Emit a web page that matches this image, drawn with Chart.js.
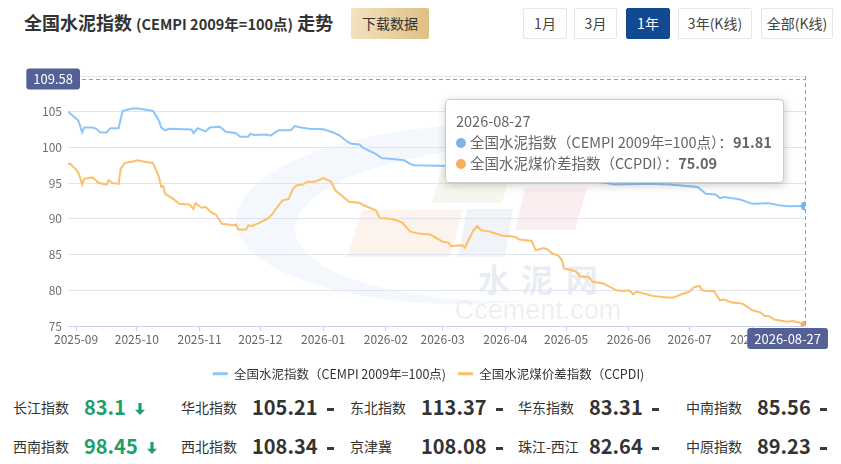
<!DOCTYPE html>
<html lang="zh-CN">
<head>
<meta charset="utf-8">
<title>全国水泥指数走势</title>
<script src="https://cdn.jsdelivr.net/npm/chart.js@4.4.1/dist/chart.umd.min.js"></script>
<style>
  html, body { margin: 0; padding: 0; background: #fff; }
  body { width: 841px; height: 464px; position: relative; overflow: hidden;
         font-family: "Noto Sans CJK SC", "Noto Sans", sans-serif; color: #333; }
  .title { position: absolute; left: 24px; top: 9px; font-size: 18px; font-weight: bold; line-height: 26px; white-space: nowrap; }
  .title small { font-size: 14.5px; }
  .download { position: absolute; left: 351px; top: 8px; width: 78px; height: 31px; line-height: 31px; text-align: center;
              font-size: 14px; background: linear-gradient(to right, #f3e2c0, #dfc084); border-radius: 2px; }
  .range { position: absolute; top: 8px; height: 31px; line-height: 29px; text-align: center; font-size: 14px;
           border: 1px solid #e6e6e6; box-sizing: border-box; border-radius: 2px; color: #444; background: #fff; }
  .range.on { background: #114a92; border-color: #114a92; color: #fff; }
  #wrap { position: absolute; left: 0; top: 0; width: 841px; height: 390px; }
  #tip { position: absolute; display: none; background: #fff; border: 1px solid #ccc; border-radius: 4px;
         box-shadow: 1px 2px 10px rgba(0,0,0,0.2); padding: 10px 11px 9px 10px; font-size: 14.5px; color: #666;
         line-height: 21px; white-space: nowrap; pointer-events: none; }
  #tip i { display: inline-block; width: 10px; height: 10px; border-radius: 5px; margin-right: 4px; vertical-align: 0; }
  #tip b { color: #666; }
  .row { position: absolute; left: 13px; height: 30px; line-height: 30px; white-space: nowrap; }
  .cell { position: absolute; top: 0; }
  .cell .name { position: absolute; left: 0; font-size: 14px; color: #333; }
  .cell .val { position: absolute; left: 71px; font-size: 20px; font-weight: bold; color: #333; }
  .cell .val.down { color: #1f9e6b; }
  .cell .dash { display: inline-block; width: 7px; height: 3px; background: #3a3a3a; margin-left: 9px; vertical-align: middle; }
  .cell svg { margin-left: 9px; vertical-align: middle; position: relative; top: -1px; }
</style>
</head>
<body>

<div class="title">全国水泥指数 <small>(CEMPI 2009年=100点)</small> 走势</div>
<div class="download">下载数据</div>
<div class="range" style="left:523px;width:44px">1月</div>
<div class="range" style="left:574px;width:43px">3月</div>
<div class="range on" style="left:626px;width:44px">1年</div>
<div class="range" style="left:678px;width:74px">3年(K线)</div>
<div class="range" style="left:761px;width:72px">全部(K线)</div>

<div id="wrap"><canvas id="chart"></canvas></div>
<div id="tip"></div>
<div id="stats"></div>

<script>
'use strict'

//系列名称
const seriesNames = ['全国水泥指数（CEMPI 2009年=100点）', '全国水泥煤价差指数（CCPDI）'];
const legendNames = ['全国水泥指数（CEMPI 2009年=100点)', '全国水泥煤价差指数（CCPDI)'];

//全国水泥指数 CEMPI
const cempiDates = ['2025-08-28','2025-08-31','2025-09-02','2025-09-03','2025-09-04','2025-09-05','2025-09-09','2025-09-11',
  '2025-09-13','2025-09-16','2025-09-18','2025-09-22','2025-09-23','2025-09-24','2025-09-28','2025-10-01','2025-10-09',
  '2025-10-12','2025-10-13','2025-10-15','2025-10-17','2025-10-28','2025-10-29','2025-10-31','2025-11-04','2025-11-06',
  '2025-11-11','2025-11-14','2025-11-19','2025-11-21','2025-11-25','2025-11-26','2025-11-28','2025-12-04','2025-12-06',
  '2025-12-10','2025-12-16','2025-12-18','2025-12-21','2025-12-25','2026-01-01','2026-01-06','2026-01-09','2026-01-13',
  '2026-01-15','2026-01-19','2026-01-21','2026-01-27','2026-01-30','2026-02-03','2026-02-10','2026-02-13','2026-02-15',
  '2026-03-04','2026-03-15','2026-04-01','2026-04-15','2026-05-01','2026-05-15','2026-05-25','2026-06-11','2026-06-21',
  '2026-07-05','2026-07-09','2026-07-14','2026-07-16','2026-07-18','2026-07-26','2026-08-01','2026-08-09','2026-08-14',
  '2026-08-19','2026-08-27'];
const cempiValues = [105.0,104.3,103.8,103.0,102.1,102.8,102.8,102.6,
  102.1,102.1,102.7,102.7,104.0,105.1,105.4,105.5,105.1,
  103.7,102.8,102.4,102.6,102.5,102.0,102.7,102.25,102.8,
  102.9,102.2,102.0,101.5,101.5,101.9,101.75,101.8,101.65,
  102.4,102.4,103.0,102.8,102.6,102.55,102.1,101.7,100.8,
  100.5,100.4,99.9,99.1,98.5,98.4,98.2,97.7,97.5,
  97.4,97.2,96.8,96.3,95.8,95.3,94.8,94.9,94.8,
  94.45,93.5,93.4,92.9,93.05,92.7,92.1,92.2,91.9,
  91.75,91.81];

//全国水泥煤价差指数 CCPDI
const ccpdiDates = ['2025-08-28','2025-08-29','2025-09-01','2025-09-02','2025-09-03','2025-09-04','2025-09-05','2025-09-09',
  '2025-09-10','2025-09-12','2025-09-16','2025-09-17','2025-09-19','2025-09-22','2025-09-23','2025-09-25','2025-09-28',
  '2025-09-29','2025-10-01','2025-10-09','2025-10-12','2025-10-13','2025-10-14','2025-10-15','2025-10-19','2025-10-22',
  '2025-10-27','2025-10-29','2025-10-30','2025-11-02','2025-11-04','2025-11-07','2025-11-09','2025-11-12','2025-11-18',
  '2025-11-19','2025-11-20','2025-11-24','2025-11-25','2025-11-27','2025-12-01','2025-12-05','2025-12-07','2025-12-10',
  '2025-12-12','2025-12-15','2025-12-17','2025-12-19','2025-12-22','2025-12-24','2025-12-28','2026-01-01','2026-01-05',
  '2026-01-07','2026-01-14','2026-01-19','2026-01-21','2026-01-27','2026-01-29','2026-02-03','2026-02-06','2026-02-09',
  '2026-02-13','2026-02-18','2026-02-23','2026-03-01','2026-03-04','2026-03-05','2026-03-11','2026-03-12','2026-03-16',
  '2026-03-18','2026-03-20','2026-03-24','2026-03-31','2026-04-02','2026-04-06','2026-04-08','2026-04-14','2026-04-16',
  '2026-04-20','2026-04-22','2026-04-24','2026-04-27','2026-04-29','2026-04-30','2026-05-04','2026-05-06','2026-05-08',
  '2026-05-12','2026-05-14','2026-05-19','2026-05-26','2026-05-29','2026-06-01','2026-06-03','2026-06-05','2026-06-13',
  '2026-06-20','2026-06-23','2026-06-28','2026-07-01','2026-07-03','2026-07-06','2026-07-07','2026-07-09','2026-07-13',
  '2026-07-16','2026-07-18','2026-07-22','2026-07-27','2026-08-01','2026-08-05','2026-08-07','2026-08-09','2026-08-12',
  '2026-08-18','2026-08-21','2026-08-24','2026-08-27'];
const ccpdiValues = [97.7,97.7,96.9,96.5,95.8,94.8,95.6,95.8,
  95.6,95.05,94.8,95.4,95.0,94.9,97.0,97.8,98.0,
  98.0,98.2,97.8,95.8,94.5,94.6,93.5,92.8,92.1,
  92.0,91.4,92.2,91.55,91.65,90.85,90.6,89.3,89.1,
  89.2,88.5,88.5,89.1,89.0,89.5,90.1,90.7,91.9,
  92.6,92.8,94.2,94.7,94.8,95.2,95.2,95.7,95.2,
  94.0,92.35,92.25,91.9,91.2,90.1,90.0,89.8,89.5,
  88.2,87.9,87.8,86.8,86.65,86.2,86.3,85.95,88.3,
  89.0,88.4,88.25,87.6,87.6,87.45,87.1,86.9,85.6,
  85.9,85.7,85.15,84.9,84.2,83.05,82.8,82.6,81.9,
  81.9,81.2,81.0,80.0,79.9,80.0,79.45,79.8,79.2,
  79.0,79.0,79.55,79.8,80.4,80.6,80.1,79.9,79.9,
  78.6,78.7,78.3,78.15,77.2,76.9,76.4,76.4,75.9,
  75.6,75.7,75.5,75.09];

//横轴月份刻度
const monthTicks = ['2025-09','2025-10','2025-11','2025-12','2026-01','2026-02',
  '2026-03','2026-04','2026-05','2026-06','2026-07','2026-08'];
//纵轴刻度
const yMin = 75;
const yMax = 110;
const yStep = 5;
//鼠标所在的纵轴数值
const pointerValue = 109.58;

//线条颜色和圆点颜色
const lineColors = ['#8cc5fa', '#fdc06a'];
const pointColors = ['#7fb3e8', '#f9ae5f'];

//区域指数
const regionNames = ['长江指数','华北指数','东北指数','华东指数','中南指数','西南指数','西北指数','京津冀','珠江-西江','中原指数'];
const regionValues = [83.1, 105.21, 113.37, 83.31, 85.56, 98.45, 108.34, 108.08, 82.64, 89.23];
const regionTrends = ['down','flat','flat','flat','flat','down','flat','flat','flat','flat'];

//==================================================================================================

//日期转成天数
function dayNum(s){
    const p = s.split('-').map(Number);
    return Date.UTC(p[0], p[1] - 1, p[2] || 1) / 86400000;
}

function toPoints(dates, values){
    return dates.map((d, i) => ({ x: dayNum(d), y: values[i], d: d }));
}

//激活点对应的数据
function activeRaw(chart, a){
    return chart.data.datasets[a.datasetIndex].data[a.index];
}

//背景水印
const watermark = {
    id: 'watermark',
    beforeDraw(chart){
        const ctx = chart.ctx;
        ctx.save();
        ctx.beginPath();
        ctx.ellipse(482, 214, 246, 90, -0.03, 0, Math.PI * 2);
        ctx.clip();
        ctx.beginPath();
        ctx.rect(0, 0, chart.width, chart.height);
        ctx.ellipse(527, 223, 232, 78, -0.03, 0, Math.PI * 2);
        ctx.fillStyle = '#f4f8fc';
        ctx.fill('evenodd');
        ctx.restore();

        ctx.save();
        const shapes = [
            ['#f4f7ee', [[442,167],[512,167],[502,203],[432,203]]],
            ['#fdf3ed', [[362,210],[463,210],[450,257],[347,257]]],
            ['#f0f3f8', [[467,209],[513,209],[505,257],[458,257]]],
            ['#fcedef', [[525,188],[587,188],[575,230],[515,230]]]
        ];
        shapes.forEach(([c, pts]) => {
            ctx.beginPath();
            pts.forEach((p, i) => i ? ctx.lineTo(p[0], p[1]) : ctx.moveTo(p[0], p[1]));
            ctx.closePath();
            ctx.fillStyle = c;
            ctx.fill();
        });
        ctx.fillStyle = '#e9edf3';
        ctx.font = 'bold 32px "Noto Sans CJK SC"';
        ctx.textAlign = 'center';
        ctx.textBaseline = 'middle';
        ctx.fillText('水', 494, 280);
        ctx.fillText('泥', 537, 280);
        ctx.fillText('网', 582, 280);
        ctx.fillStyle = '#efefef';
        ctx.font = '27px "Liberation Sans"';
        ctx.fillText('Ccement.com', 538, 312);
        ctx.restore();
    }
};

//图例整体往右挪一点，和原图居中位置一致
const legendShift = {
    id: 'legendShift',
    afterLayout(chart){
        chart.legend.left += 21;
        chart.legend.right += 21;
    }
};

//十字准线和轴标签
const crosshair = {
    id: 'crosshair',
    afterDraw(chart){
        const act = chart.tooltip.getActiveElements();
        if(!act.length) return;
        const ctx = chart.ctx;
        const area = chart.chartArea;
        const raw = activeRaw(chart, act[0]);
        const px = chart.scales.x.getPixelForValue(raw.x);
        const py = chart.scales.y.getPixelForValue(pointerValue);
        ctx.save();
        ctx.strokeStyle = '#9a9a9a';
        ctx.lineWidth = 1;
        ctx.setLineDash([4, 3]);
        ctx.beginPath();
        ctx.moveTo(area.left, Math.round(py) + 0.5);
        ctx.lineTo(area.right, Math.round(py) + 0.5);
        ctx.moveTo(Math.round(px) + 0.5, area.top);
        ctx.lineTo(Math.round(px) + 0.5, area.bottom);
        ctx.stroke();
        ctx.setLineDash([]);

        ctx.font = '13px "Noto Sans CJK SC"';
        ctx.textAlign = 'center';
        ctx.textBaseline = 'middle';
        //纵轴标签
        const yText = pointerValue.toFixed(2);
        let w = ctx.measureText(yText).width + 14;
        const bx = area.left + 12 - w;
        ctx.fillStyle = '#556096';
        ctx.beginPath();
        ctx.roundRect(bx, py - 10.5, w, 21, 3);
        ctx.fill();
        ctx.fillStyle = '#fff';
        ctx.fillText(yText, bx + w / 2, py + 0.5);
        //横轴标签
        const xText = raw.d;
        w = ctx.measureText(xText).width + 14;
        const cx = Math.min(px, chart.width - 13 - w / 2);
        ctx.fillStyle = '#556096';
        ctx.beginPath();
        ctx.roundRect(cx - w / 2, area.bottom + 2, w, 21, 3);
        ctx.fill();
        ctx.fillStyle = '#fff';
        ctx.fillText(xText, cx, area.bottom + 13);
        ctx.restore();
    }
};

//提示框
function externalTip(context){
    const chart = context.chart;
    const tooltip = context.tooltip;
    const tip = document.querySelector('#tip');
    const act = tooltip.getActiveElements();
    if(tooltip.opacity === 0 || !act.length){
        tip.style.display = 'none';
        return;
    }
    let html = '<div>' + activeRaw(chart, act[0]).d + '</div>';
    act.forEach((a) => {
        html += '<div><i style="background:' + pointColors[a.datasetIndex] + '"></i>' +
            seriesNames[a.datasetIndex] + '：<b>' + activeRaw(chart, a).y.toFixed(2) + '</b></div>';
    });
    tip.innerHTML = html;
    tip.style.display = 'block';
    const px = chart.scales.x.getPixelForValue(activeRaw(chart, act[0]).x);
    const py = chart.scales.y.getPixelForValue(pointerValue);
    tip.style.left = (px - 21 - tip.offsetWidth) + 'px';
    tip.style.top = (py + 20) + 'px';
}

Chart.defaults.font.family = '"Noto Sans CJK SC", "Noto Sans", sans-serif';

const chart = new Chart(document.getElementById('chart'), {
    type: 'line',
    data: {
        datasets: [
            {
                label: seriesNames[0],
                data: toPoints(cempiDates, cempiValues),
                borderColor: lineColors[0],
                backgroundColor: pointColors[0],
                borderWidth: 2,
                pointRadius: 0,
                pointHoverRadius: 4,
                pointHoverBorderWidth: 1,
                pointHoverBackgroundColor: pointColors[0],
                pointHoverBorderColor: pointColors[0],
                tension: 0
            },
            {
                label: seriesNames[1],
                data: toPoints(ccpdiDates, ccpdiValues),
                borderColor: lineColors[1],
                backgroundColor: pointColors[1],
                borderWidth: 2,
                pointRadius: 0,
                pointHoverRadius: 4,
                pointHoverBorderWidth: 1,
                pointHoverBackgroundColor: pointColors[1],
                pointHoverBorderColor: pointColors[1],
                tension: 0
            }
        ]
    },
    options: {
        responsive: true,
        maintainAspectRatio: false,
        animation: false,
        events: [],
        layout: { padding: { left: 10, right: 36, top: 76, bottom: 0 } },
        scales: {
            x: {
                type: 'linear',
                min: dayNum(cempiDates[0]),
                max: dayNum(cempiDates[cempiDates.length - 1]),
                afterBuildTicks: (scale) => {
                    scale.ticks = monthTicks.map((m) => ({ value: dayNum(m + '-01') }));
                },
                afterFit: (scale) => { scale.height = 29.5; },
                ticks: {
                    autoSkip: false,
                    maxRotation: 0,
                    padding: 1,
                    color: '#666',
                    font: { size: 12 },
                    callback: (v) => monthTicks.find((m) => dayNum(m + '-01') === v) || ''
                },
                grid: { drawOnChartArea: false, drawTicks: true, tickLength: 5, color: '#c8d1e5' },
                border: { color: '#c8d1e5' }
            },
            y: {
                min: yMin,
                max: yMax,
                afterFit: (scale) => { scale.width = 58; },
                ticks: { stepSize: yStep, padding: 6, color: '#6e7079', font: { size: 12 } },
                grid: { color: '#e0e4ee', drawTicks: false },
                border: { display: false }
            }
        },
        plugins: {
            legend: {
                position: 'bottom',
                labels: {
                    usePointStyle: true,
                    pointStyleWidth: 15,
                    padding: 12,
                    color: '#333',
                    font: { size: 12.5 },
                    generateLabels: (c) => c.data.datasets.map((ds, i) => ({
                        text: legendNames[i],
                        fillStyle: ds.borderColor,
                        strokeStyle: ds.borderColor,
                        lineWidth: 3,
                        pointStyle: 'line',
                        hidden: false,
                        datasetIndex: i,
                        fontColor: '#333'
                    }))
                }
            },
            tooltip: { enabled: false, external: externalTip }
        }
    },
    plugins: [watermark, legendShift, crosshair]
});

//激活最后一天
const lastActive = [
    { datasetIndex: 0, index: cempiValues.length - 1 },
    { datasetIndex: 1, index: ccpdiValues.length - 1 }
];
chart.setActiveElements(lastActive);
chart.tooltip.setActiveElements(lastActive, {
    x: chart.scales.x.getPixelForValue(dayNum(cempiDates[cempiDates.length - 1])),
    y: chart.scales.y.getPixelForValue(pointerValue)
});
chart.update();

//区域指数列表
function drawStats(){
    const stats = document.querySelector('#stats');
    const rowTops = [392, 431];
    const arrow = '<svg width="10" height="12" viewBox="0 0 10 12"><path d="M3.4 0h3.2v6.8H10L5 12L0 6.8h3.4z" fill="#1f9e6b"/></svg>';
    let html = '';
    rowTops.forEach((top, r) => {
        html += '<div class="row" style="top:' + top + 'px">';
        for(let c = 0; c < 5; c++){
            const i = r * 5 + c;
            const down = regionTrends[i] === 'down';
            html += '<div class="cell" style="left:' + Math.round(c * 168.3) + 'px">' +
                '<span class="name">' + regionNames[i] + '</span>' +
                '<span class="val' + (down ? ' down' : '') + '">' + regionValues[i] +
                (down ? arrow : '<span class="dash"></span>') + '</span></div>';
        }
        html += '</div>';
    });
    stats.innerHTML = html;
}
drawStats();
</script>
</body>
</html>
